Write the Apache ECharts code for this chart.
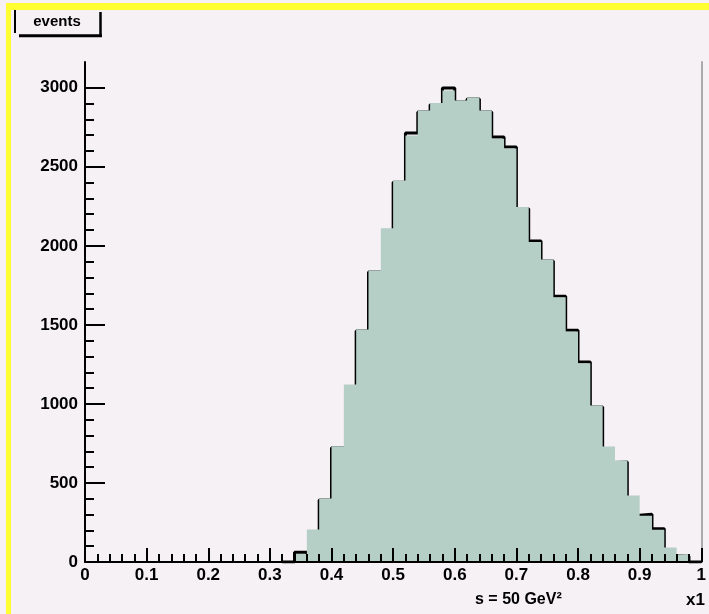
<!DOCTYPE html>
<html><head><meta charset="utf-8">
<script src="https://cdn.jsdelivr.net/npm/echarts@6/dist/echarts.min.js"></script>
<style>
html,body{margin:0;padding:0;background:#f6f1f5;overflow:hidden;}
#wrap{position:relative;width:709px;height:614px;}
#c{width:709px;height:614px;}
.yb{position:absolute;background:#ffff33;}
</style>
</head><body><div id="wrap"><div id="c"></div>
<div class="yb" style="left:6px;top:3px;width:703px;height:6.5px;"></div>
<div class="yb" style="left:6px;top:3px;width:5px;height:611px;"></div>
</div>
<script>
// Histogram bins (left edges, width 0.02)
const binLow = [0.32,0.34,0.36,0.38,0.40,0.42,0.44,0.46,0.48,0.50,0.52,0.54,0.56,0.58,0.60,0.62,0.64,0.66,0.68,0.70,0.72,0.74,0.76,0.78,0.80,0.82,0.84,0.86,0.88,0.90,0.92,0.94,0.96,0.98];
const histEnd = 1.0;
// filled (green) histogram
const filledCounts = [0,50,206,402,732,1123,1471,1844,2112,2413,2698,2856,2903,2983,2920,2939,2856,2678,2616,2245,2024,1914,1675,1458,1258,990,731,642,421,292,204,92,47,0];
// black outline histogram
const outlineCounts = [0,61,40,392,722,700,1461,1834,1800,2403,2714,2846,2893,2999,2910,2929,2846,2689,2625,2235,2031,1904,1681,1466,1265,980,630,632,295,302,211,40,37,0];
const xTickLabels = ['0','0.1','0.2','0.3','0.4','0.5','0.6','0.7','0.8','0.9','1'];
const yTickValues = [0,500,1000,1500,2000,2500,3000];
const yMinorTickValues = [100,200,300,400,600,700,800,900,1100,1200,1300,1400,1600,1700,1800,1900,2100,2200,2300,2400,2600,2700,2800,2900];
const yMax = 3163;

function stepData(vals){
  const d = binLow.map((x,i)=>[x, vals[i]]);
  d.push([histEnd, 0]);
  return d;
}
const FONT = 'Liberation Sans';
const chart = echarts.init(document.getElementById('c'), null, {renderer:'canvas'});
chart.setOption({
  backgroundColor:'#f6f1f5',
  animation:false,
  grid:{left:85, right:4, top:62, bottom:52, containLabel:false},
  xAxis:{type:'value', min:0, max:1, interval:0.1, z:10,
    axisLine:{show:true, onZero:false, lineStyle:{color:'#000', width:2}},
    axisTick:{show:true, inside:true, length:14, lineStyle:{color:'#000', width:2}},
    minorTick:{show:true, splitNumber:5, length:8, lineStyle:{color:'#000', width:2}},
    splitLine:{show:false}, minorSplitLine:{show:false},
    axisLabel:{color:'#000', fontSize:17, fontWeight:'bold', fontFamily:FONT, margin:5,
      formatter:v=>xTickLabels[Math.round(v*10)]}
  },
  yAxis:[
    {type:'value', min:0, max:yMax, position:'left', z:10,
      axisLine:{show:true, onZero:false, lineStyle:{color:'#000', width:2}},
      axisTick:{show:true, inside:true, length:20, customValues:yTickValues, lineStyle:{color:'#000', width:2}},
      axisLabel:{customValues:yTickValues, color:'#000', fontSize:17, fontWeight:'bold', fontFamily:FONT, margin:7,
        formatter:v=>String(v)},
      splitLine:{show:false}},
    {type:'value', min:0, max:yMax, position:'left', z:10,
      axisLine:{show:false},
      axisTick:{show:true, inside:true, length:9, customValues:yMinorTickValues, lineStyle:{color:'#000', width:2}},
      axisLabel:{show:false}, splitLine:{show:false}},
    {type:'value', min:0, max:yMax, position:'right', z:9,
      axisLine:{show:true, lineStyle:{color:'#aaa', width:2}},
      axisTick:{show:false}, axisLabel:{show:false}, splitLine:{show:false}}
  ],
  series:[
    {type:'line', name:'outline', yAxisIndex:0, step:'end', data:stepData(outlineCounts),
      symbol:'none', z:1, silent:true,
      lineStyle:{color:'#000', width:3}},
    {type:'line', name:'filled', yAxisIndex:0, step:'end', data:stepData(filledCounts),
      symbol:'none', z:2, silent:true,
      lineStyle:{width:0, color:'#b5cec6'},
      areaStyle:{color:'#b5cec6', opacity:1}}
  ],
  graphic:[
    {type:'line', shape:{x1:15, y1:9, x2:15, y2:33}, style:{stroke:'#000', lineWidth:2}, z:50},
    {type:'line', shape:{x1:19, y1:35.7, x2:102, y2:35.7}, style:{stroke:'#000', lineWidth:3}, z:50},
    {type:'line', shape:{x1:100.5, y1:12, x2:100.5, y2:37}, style:{stroke:'#000', lineWidth:2.5}, z:50},
    {type:'text', style:{text:'events', x:57, y:22, align:'center', verticalAlign:'middle', font:'bold 15px "Liberation Sans"', fill:'#000'}, z:50},
    {type:'text', style:{text:'s = 50 GeV²', x:475, y:600, align:'left', verticalAlign:'middle', font:'bold 16px "Liberation Sans"', fill:'#000'}, z:50},
    {type:'text', style:{text:'x1', x:705, y:600, align:'right', verticalAlign:'middle', font:'bold 17px "Liberation Sans"', fill:'#000'}, z:50}
  ]
});
</script>
</body></html>
